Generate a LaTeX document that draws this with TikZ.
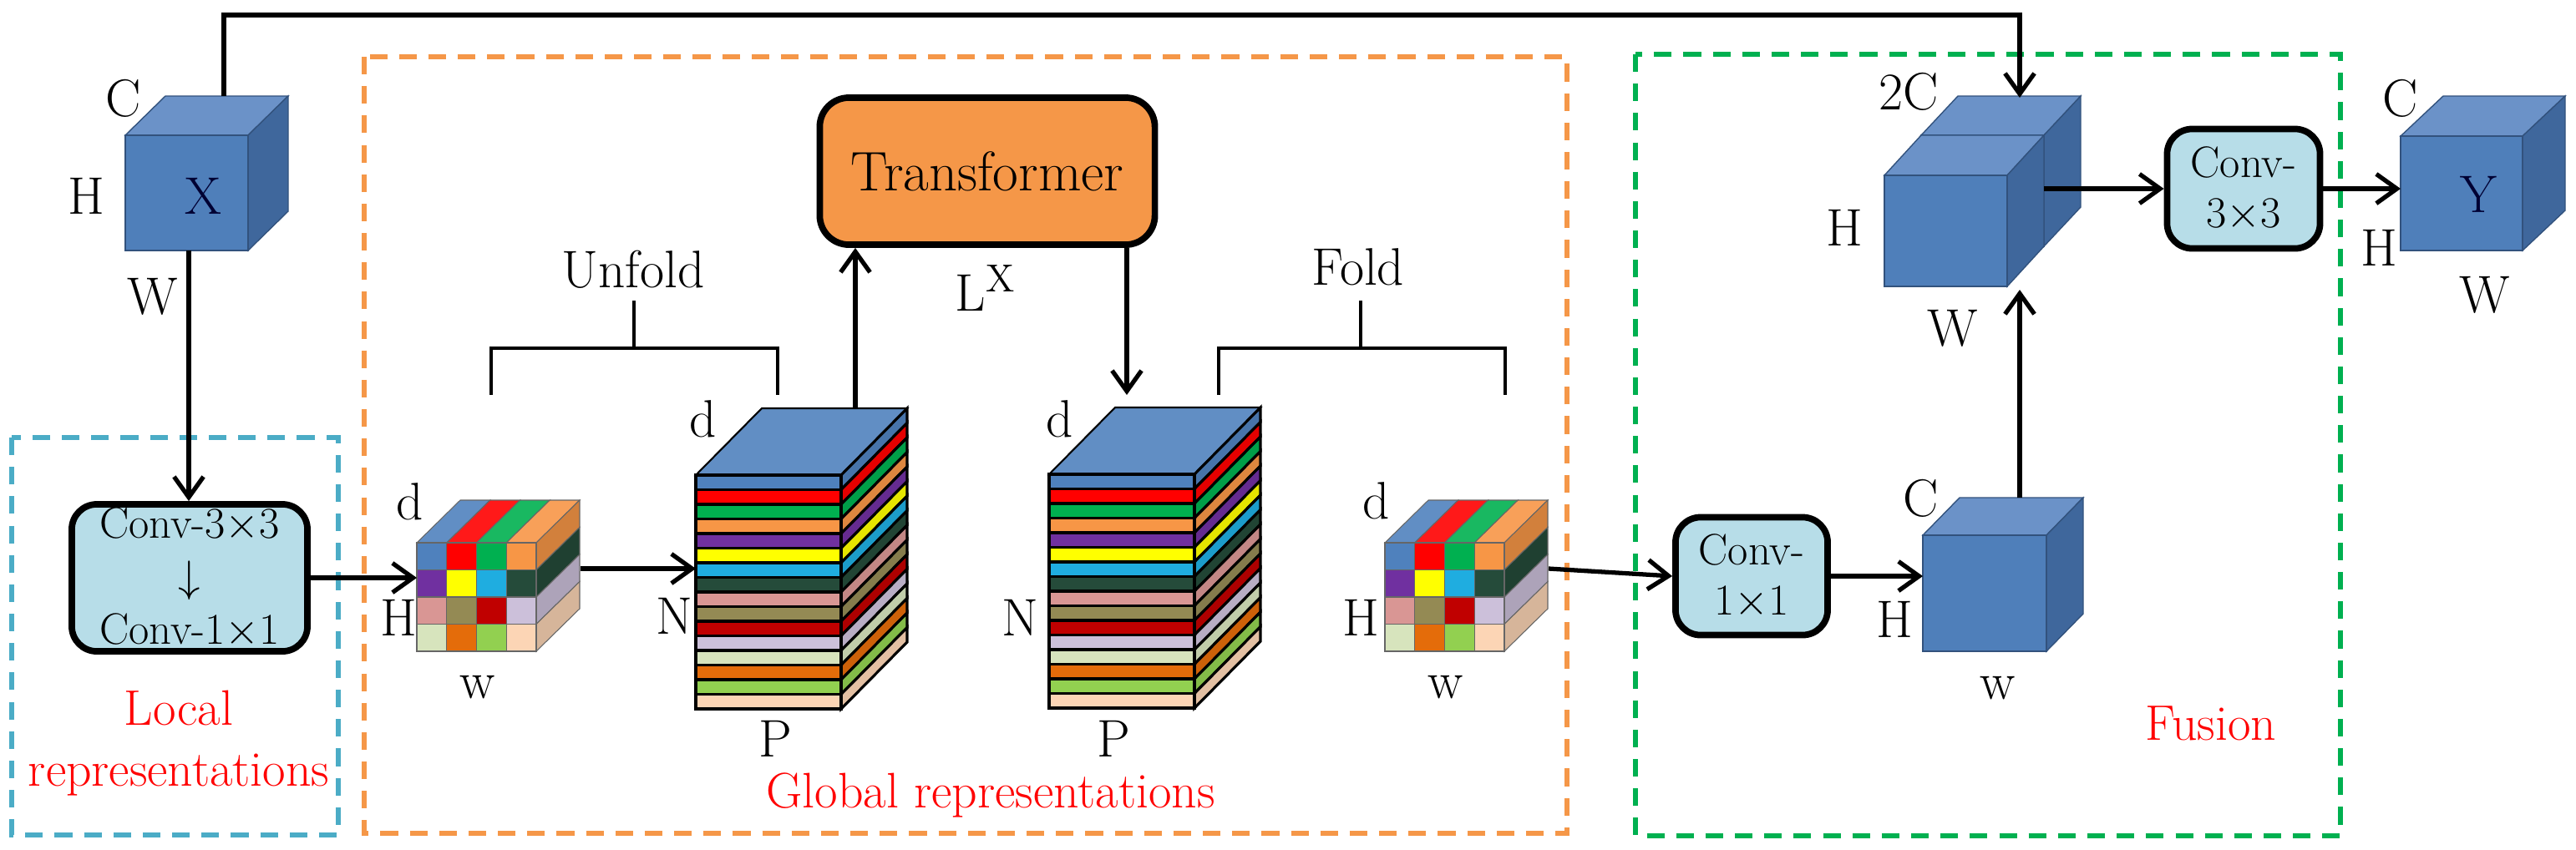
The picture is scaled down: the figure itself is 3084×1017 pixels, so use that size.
\documentclass[tikz,border=0pt]{standalone}
\usepackage{mathptmx}
\usetikzlibrary{arrows.meta,positioning,calc}
\definecolor{p1}{HTML}{4F81BD}
\definecolor{p2}{HTML}{FF0000}
\definecolor{p3}{HTML}{00B050}
\definecolor{p4}{HTML}{F79646}
\definecolor{p5}{HTML}{7030A0}
\definecolor{p6}{HTML}{FFFF00}
\definecolor{p7}{HTML}{1FADE0}
\definecolor{p8}{HTML}{254B3A}
\definecolor{p9}{HTML}{D99694}
\definecolor{p10}{HTML}{948A54}
\definecolor{p11}{HTML}{C00000}
\definecolor{p12}{HTML}{CCC0DA}
\definecolor{p13}{HTML}{D7E4BD}
\definecolor{p14}{HTML}{E46C0A}
\definecolor{p15}{HTML}{92D050}
\definecolor{p16}{HTML}{FCD5B5}
\definecolor{cubefront}{HTML}{4F7FBA}
\definecolor{cubetop}{HTML}{6B92C8}
\definecolor{cubeside}{HTML}{3F679C}
\definecolor{convblue}{HTML}{B7DDE8}
\definecolor{transorange}{HTML}{F59748}
\definecolor{loccyan}{HTML}{4BACC6}
\definecolor{fusgreen}{HTML}{00B050}
% blue cube: name, x, y (front top left), width, height, dx, dy
\newcommand{\bcube}[7]{
  \fill[cubetop,draw=cubeside!80!black,line width=.4pt] (#2,#3) -- ++(#6,-#7) -- ++(#4,0) -- ++(-#6,#7) -- cycle;
  \fill[cubeside,draw=cubeside!80!black,line width=.4pt] (#2+#4,#3) -- ++(#6,-#7) -- ++(0,#5) -- ++(-#6,#7) -- cycle;
  \fill[cubefront,draw=cubeside!80!black,line width=.4pt] (#2,#3) rectangle ++(#4,#5);
  \coordinate (#1-w) at (#2,#3+#5/2);
  \coordinate (#1-e) at (#2+#4+#6,#3+#5/2-#7/2);
}
% coloured patch cube: name, x, y
\newcommand{\patchcube}[3]{
  \foreach \c in {0,...,3} {
    \pgfmathtruncatemacro{\k}{\c+1}
    \filldraw[fill=p\k!90!white,draw=black!60,line width=.3pt] (#2+\c*35.75,#3) -- ++(52,-51) -- ++(35.75,0) -- ++(-52,51) -- cycle;
  }
  \foreach \r in {0,...,3} {
    \pgfmathtruncatemacro{\k}{4*\r+4}
    \filldraw[fill=p\k!85!black,draw=black!60,line width=.3pt] (#2+143,#3+\r*32.5) -- ++(52,-51) -- ++(0,32.5) -- ++(-52,51) -- cycle;
    \foreach \c in {0,...,3} {
      \pgfmathtruncatemacro{\k}{4*\r+\c+1}
      \filldraw[fill=p\k,draw=black!60,line width=.3pt] (#2+\c*35.75,#3+\r*32.5) rectangle ++(35.75,32.5);
    }
  }
  \coordinate (#1-w) at (#2,#3+65);
  \coordinate (#1-e) at (#2+196,#3+31);
}
% stacked patches: name, x, y
\newcommand{\stackblock}[3]{
  \filldraw[fill=p1!90!white,draw=black,line width=.6pt] (#2,#3) -- ++(79,-80) -- ++(174,0) -- ++(-79,80) -- cycle;
  \foreach \i in {0,...,15} {
    \pgfmathtruncatemacro{\k}{\i+1}
    \filldraw[fill=p\k!90!black,draw=black,line width=.9pt] (#2+174,#3+\i*17.5) -- ++(79,-80) -- ++(0,17.5) -- ++(-79,80) -- cycle;
    \filldraw[fill=p\k,draw=black,line width=.9pt] (#2,#3+\i*17.5) rectangle ++(174,17.5);
  }
  \coordinate (#1-w) at (#2,#3+112);
}
\begin{document}
\begin{tikzpicture}[x=0.01cm,y=-0.01cm,
  conv/.style={draw,line width=2.2pt,rounded corners=0.3cm,fill=convblue,align=center,font=\fontsize{15}{17}\selectfont,inner sep=0pt},
  lab/.style={font=\fontsize{18}{20}\selectfont,inner sep=0pt},
  red lab/.style={font=\fontsize{17}{21}\selectfont,text=red,inner sep=0pt},
  flow/.style={line width=1.5pt,-{Straight Barb[length=7pt,width=10pt,line width=1.5pt]}},
  bracket/.style={line width=1.4pt},
  region/.style={line width=1.6pt,dash pattern=on 6pt off 4pt}]
  \useasboundingbox (0,0) rectangle (3084,1017);

  % dashed regions
  \draw[region,loccyan] (14,524) rectangle (405,1000);
  \draw[region,transorange] (436,68) rectangle (1876,998);
  \draw[region,fusgreen] (1958,65) rectangle (2802,1001);

  % boxes
  \node[conv,minimum width=2.82cm,minimum height=1.76cm] (loc) at (227,692) {Conv-3$\times$3\\[1pt]$\downarrow$\\[1pt]Conv-1$\times$1};
  \node[draw,line width=2.2pt,rounded corners=0.35cm,fill=transorange,minimum width=4.01cm,minimum height=1.76cm,font=\fontsize{19}{20}\selectfont] (trans) at (1182,205) {Transformer};
  \node[conv,minimum width=1.82cm,minimum height=1.41cm] (convA) at (2097,690) {Conv-\\1$\times$1};
  \node[conv,minimum width=1.83cm,minimum height=1.43cm] (convB) at (2686,226) {Conv-\\3$\times$3};

  % feature maps
  \bcube{xin}{150}{162}{147}{138}{48}{47}
  \patchcube{pa}{499}{650}
  \stackblock{sa}{833}{569}
  \stackblock{sb}{1256}{568}
  \patchcube{pb}{1658}{650}
  \bcube{cmap}{2302}{641}{148}{139}{44}{45}
  \bcube{cc}{2300}{162}{147}{133}{44}{47}
  \bcube{cat}{2256}{210}{147}{133}{44}{48}
  \bcube{yout}{2874}{163}{146}{137}{51}{48}

  \coordinate (xtop) at (268,115);
  \coordinate (xbot) at (226,300);
  \coordinate (sa-top) at (1024,489);
  \coordinate (sb-top) at (1349,473);
  \coordinate (cmap-top) at (2418,596);
  \coordinate (cat-bot) at (2418,347);
  \coordinate (cat-top) at (2418,117);

  % labels
  \node[lab] (xc) at (148,118) {C};
  \node[lab] (xh) at (103,235) {H};
  \node[lab] (xw) at (183,355) {W};
  \node[lab,text=black!80!blue] (xx) at (243,235) {X};
  \node[lab] (pad) at (491,601) {d};
  \node[lab] (pah) at (477,740) {H};
  \node[lab] (paw) at (572,823) {w};
  \node[lab] (sad) at (842,502) {d};
  \node[lab] (san) at (807,738) {N};
  \node[lab] (sap) at (928,885) {P};
  \node[lab] (sbd) at (1269,502) {d};
  \node[lab] (sbn) at (1221,740) {N};
  \node[lab] (sbp) at (1333,885) {P};
  \node[lab] (pbd) at (1648,600) {d};
  \node[lab] (pbh) at (1629,740) {H};
  \node[lab] (pbw) at (1731,823) {w};
  \node[lab] (lx) at (1180,345) {L\textsuperscript{X}};
  \node[lab] (unf) at (758,323) {Unfold};
  \node[lab] (fld) at (1626,320) {Fold};
  \node[lab] (cmc) at (2300,597) {C};
  \node[lab] (cmh) at (2268,742) {H};
  \node[lab] (cmw) at (2392,824) {w};
  \node[lab] (cc2) at (2285,110) {2C};
  \node[lab] (cch) at (2208,273) {H};
  \node[lab] (ccw) at (2338,393) {W};
  \node[lab] (yc) at (2874,118) {C};
  \node[lab] (yh) at (2848,297) {H};
  \node[lab] (yw) at (2975,353) {W};
  \node[lab,text=black!80!blue] (yy) at (2967,233) {Y};
  \node[red lab,align=center] (local) at (214,890) {Local\\representations};
  \node[red lab] (glob) at (1186,952) {Global representations};
  \node[red lab] (fus) at (2647,866) {Fusion};

  % brackets
  \draw[bracket] (588,473) -- (588,417) -- (931,417) -- (931,473) (759,417) -- (759,360);
  \draw[bracket] (1459,473) -- (1459,417) -- (1802,417) -- (1802,473) (1629,417) -- (1629,360);

  % connections
  \draw[flow] (xtop) -- (268,18) -| (cat-top);
  \draw[flow] (xbot) -- (xbot |- loc.north);
  \draw[flow] (loc.east) -- (loc.east -| pa-w);
  \draw[flow] (pa-e) -- (sa-w |- pa-e);
  \draw[flow] (sa-top) -- (sa-top |- trans.south);
  \draw[flow] (trans.south -| sb-top) -- (sb-top);
  \draw[flow] (pb-e) -- (convA.west);
  \draw[flow] (convA.east) -- (convA.east -| cmap-w);
  \draw[flow] (cmap-top) -- (cat-bot);
  \draw[flow] (cat-e |- convB.west) -- (convB.west);
  \draw[flow] (convB.east) -- (convB.east -| yout-w);
\end{tikzpicture}
\end{document}
